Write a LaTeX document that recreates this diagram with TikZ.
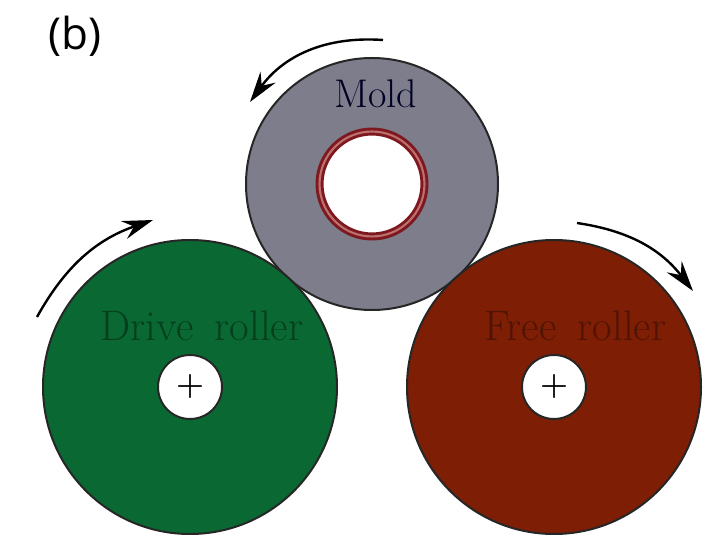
\documentclass[tikz,border=0pt]{standalone}
\usepackage{fontspec}
\newfontfamily\tagfont{Open Sans}
\usetikzlibrary{positioning, arrows.meta}
\definecolor{moldgray}{RGB}{125,125,140}
\definecolor{drivegreen}{RGB}{10,105,50}
\definecolor{freebrown}{RGB}{125,30,5}
\definecolor{ringred}{RGB}{125,25,30}
\definecolor{ringpale}{RGB}{190,110,110}

\begin{document}
\begin{tikzpicture}[x=0.75pt, y=0.75pt, on grid, thick, line width=1.5pt,
  roller/.style = {draw=black!85, circle, inner sep=0pt, minimum size=220.5pt},
  hub/.style = {draw=black!85, circle, fill=white, inner sep=0pt, minimum size=48pt, font=\bfseries\fontsize{24}{24}\selectfont},
  word/.style = {font=\fontsize{32}{32}\selectfont},
  turn/.style = {-{Stealth[length=23pt, width=14pt, inset=8pt]}, line width=1.8pt}]
\useasboundingbox (0,0) rectangle (718,550);
\node[roller, fill=moldgray, minimum size=189pt] (mold) at (372,366) {};
\node[roller, fill=drivegreen] (drive) [below left=152.25pt and 136.5pt of mold] {};
\node[roller, fill=freebrown] (free) [below right=152.25pt and 136.5pt of mold] {};
\node[circle, fill=white, inner sep=0pt, minimum size=78.7pt, draw=ringred, line width=2.2pt, double=ringpale, double distance=1.6pt] (ring) at (mold) {};

\node[hub] (drivehub) at (drive) {+};
\node[hub] (freehub) at (free) {+};

\node[word, font=\fontsize{30}{30}\selectfont, text=black!60!blue!35!black] (moldname) [above right=68pt and 3pt of mold] {Mold};
\node[word, text=drivegreen!60!black] (drivename) [above right=46pt and 9pt of drivehub] {Drive\hspace{0.5em}roller};
\node[word, text=freebrown!65!black] (freename) [above right=46pt and 16pt of freehub] {Free\hspace{0.5em}roller};
\node[font=\tagfont\fontsize{33}{33}\selectfont] (tag) at (75,514) {(b)};

\coordinate (moldfrom) at (383,510);
\coordinate (moldto) at (250,448);
\coordinate (drivefrom) at (37,233);
\coordinate (driveto) at (153,330);
\coordinate (freefrom) at (577,327);
\coordinate (freeto) at (693,259);

\draw[turn] (moldfrom) to[bend right=29] (moldto);
\draw[turn] (drivefrom) to[bend left=21] (driveto);
\draw[turn] (freefrom) to[bend left=22] (freeto);
\end{tikzpicture}
\end{document}
